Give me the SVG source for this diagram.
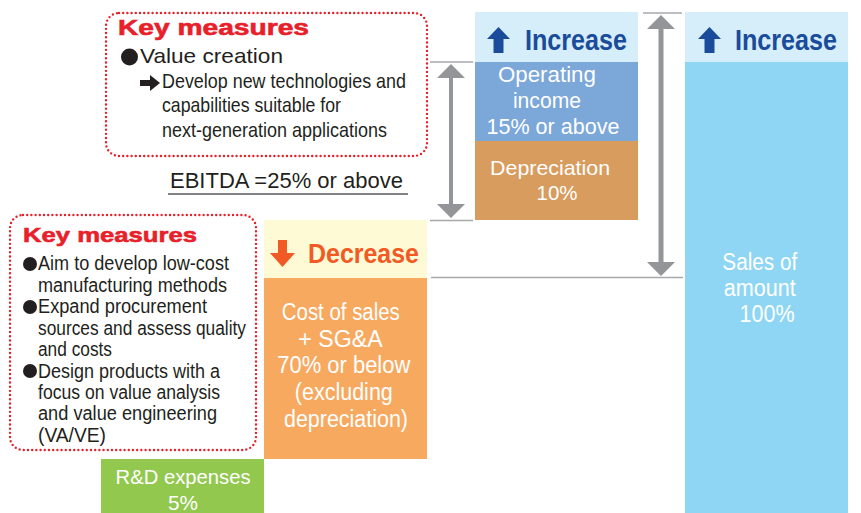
<svg xmlns="http://www.w3.org/2000/svg" width="861" height="513" viewBox="0 0 861 513">
<style>
.t{font-family:"Liberation Sans",Arial,sans-serif;fill:#231f20}
.w{font-family:"Liberation Sans",Arial,sans-serif;fill:#ffffff}
.km{font-family:"Liberation Sans",Arial,sans-serif;font-weight:bold;fill:#e8202a;stroke:#e8202a;stroke-width:0.6}
.hd{font-family:"Liberation Sans",Arial,sans-serif;font-weight:bold}
.dot{fill:none;stroke:#e8202a;stroke-width:2.4;stroke-dasharray:0 4.2;stroke-linecap:round}
.gl{stroke:#a7a9ac;stroke-width:1.6;fill:none}
.ga{fill:#939598}
</style>
<rect width="861" height="513" fill="#ffffff"/>

<g id="connectors">
  <line class="gl" x1="430" y1="62" x2="473" y2="62"/>
  <line class="gl" x1="430" y1="220.5" x2="473" y2="220.5"/>
  <line class="gl" x1="643" y1="13" x2="682" y2="13"/>
  <line class="gl" x1="431" y1="277.5" x2="683" y2="277.5"/>
  <line x1="168" y1="194" x2="408" y2="194" stroke="#808285" stroke-width="2"/>
  <polygon class="ga" points="451,64 465,78 453,78 453,204 465,204 451,218 437,204 449,204 449,78 437,78"/>
  <polygon class="ga" points="661,15 675,29 663.5,29 663.5,262 675,262 661,276 647,262 658.5,262 658.5,29 647,29"/>
</g>

<g id="keymeasures1">
  <rect class="dot" x="106" y="13" width="321" height="143" rx="13"/>
  <text class="km" x="118" y="35" font-size="22" textLength="191" lengthAdjust="spacingAndGlyphs">Key measures</text>
  <circle cx="129.5" cy="57" r="8.5" fill="#231f20"/>
  <text class="t" x="140" y="63" font-size="21" textLength="143" lengthAdjust="spacingAndGlyphs">Value creation</text>
  <polygon fill="#231f20" points="140,80 150,80 150,75 160,83 150,91 150,86 140,86"/>
  <text class="t" x="162" y="88" font-size="21" textLength="244" lengthAdjust="spacingAndGlyphs">Develop new technologies and</text>
  <text class="t" x="162" y="112" font-size="21" textLength="179" lengthAdjust="spacingAndGlyphs">capabilities suitable for</text>
  <text class="t" x="162" y="137" font-size="21" textLength="225" lengthAdjust="spacingAndGlyphs">next-generation applications</text>
</g>

<g id="ebitda">
  <text class="t" x="170" y="188" font-size="22" textLength="233" lengthAdjust="spacingAndGlyphs">EBITDA =25% or above</text>
</g>

<g id="increase1">
  <rect x="475" y="12" width="163" height="50" fill="#d6eefa"/>
  <polygon fill="#1b4b9b" points="498.5,27 510,39 503.5,39 503.5,53 493.5,53 493.5,39 487,39"/>
  <text class="hd" x="525" y="50" font-size="29" fill="#1b4b9b" textLength="102" lengthAdjust="spacingAndGlyphs">Increase</text>
</g>

<g id="operating">
  <rect x="475" y="62" width="163" height="79" fill="#7ba7d9"/>
  <text class="w" text-anchor="middle" font-size="22">
    <tspan x="550" y="82" textLength="98" lengthAdjust="spacingAndGlyphs">Operating</tspan>
    <tspan x="550" y="108" textLength="68" lengthAdjust="spacingAndGlyphs">income</tspan>
    <tspan x="553" y="134" textLength="133" lengthAdjust="spacingAndGlyphs">15% or above</tspan>
  </text>
</g>

<g id="depreciation">
  <rect x="475" y="141" width="163" height="79" fill="#d89c5e"/>
  <text class="w" text-anchor="middle" font-size="21">
    <tspan x="553" y="175" textLength="120" lengthAdjust="spacingAndGlyphs">Depreciation</tspan>
    <tspan x="557" y="200" textLength="41" lengthAdjust="spacingAndGlyphs">10%</tspan>
  </text>
</g>

<g id="increase2">
  <rect x="685" y="12" width="163" height="50" fill="#d6eefa"/>
  <polygon fill="#1b4b9b" points="709.5,27 721,39 714.5,39 714.5,53 704.5,53 704.5,39 698,39"/>
  <text class="hd" x="735" y="50" font-size="29" fill="#1b4b9b" textLength="102" lengthAdjust="spacingAndGlyphs">Increase</text>
</g>

<g id="sales">
  <rect x="685" y="62" width="163" height="451" fill="#8fd6f5"/>
  <text class="w" text-anchor="middle" font-size="23">
    <tspan x="763" y="270" textLength="75" lengthAdjust="spacingAndGlyphs">Sales of</tspan>
    <tspan x="763" y="296" textLength="72" lengthAdjust="spacingAndGlyphs">amount</tspan>
    <tspan x="767" y="322" textLength="55" lengthAdjust="spacingAndGlyphs">100%</tspan>
  </text>
</g>

<g id="decrease">
  <rect x="264" y="220" width="163" height="58" fill="#fffad6"/>
  <polygon fill="#f15a24" points="278,240 287,240 287,253 295,253 282.5,267 270,253 278,253"/>
  <text class="hd" x="308" y="263" font-size="28" fill="#f15a24" textLength="111" lengthAdjust="spacingAndGlyphs">Decrease</text>
</g>

<g id="cost">
  <rect x="264" y="278" width="163" height="181" fill="#f7a95f"/>
  <text class="w" text-anchor="middle" font-size="23">
    <tspan x="344" y="320" textLength="118" lengthAdjust="spacingAndGlyphs">Cost of sales</tspan>
    <tspan x="343" y="347" textLength="83" lengthAdjust="spacingAndGlyphs">+ SG&amp;A</tspan>
    <tspan x="347" y="373" textLength="133" lengthAdjust="spacingAndGlyphs">70% or below</tspan>
    <tspan x="347" y="400" textLength="98" lengthAdjust="spacingAndGlyphs">(excluding</tspan>
    <tspan x="346" y="427" textLength="124" lengthAdjust="spacingAndGlyphs">depreciation)</tspan>
  </text>
</g>

<g id="rnd">
  <rect x="101" y="459" width="163" height="54" fill="#92c84e"/>
  <text class="w" text-anchor="middle" font-size="21">
    <tspan x="186" y="484" textLength="135" lengthAdjust="spacingAndGlyphs">R&amp;D expenses</tspan>
    <tspan x="183" y="510" textLength="30" lengthAdjust="spacingAndGlyphs">5%</tspan>
  </text>
</g>

<g id="keymeasures2">
  <rect class="dot" x="10" y="215" width="246" height="235" rx="13"/>
  <text class="km" x="23" y="242" font-size="21" textLength="174" lengthAdjust="spacingAndGlyphs">Key measures</text>
  <circle cx="30" cy="264" r="7" fill="#231f20"/>
  <circle cx="30" cy="307" r="7" fill="#231f20"/>
  <circle cx="30" cy="371" r="7" fill="#231f20"/>
  <text class="t" font-size="20">
    <tspan x="38" y="270" textLength="191" lengthAdjust="spacingAndGlyphs">Aim to develop low-cost</tspan>
    <tspan x="38" y="292" textLength="189" lengthAdjust="spacingAndGlyphs">manufacturing methods</tspan>
    <tspan x="38" y="313" textLength="169" lengthAdjust="spacingAndGlyphs">Expand procurement</tspan>
    <tspan x="38" y="335" textLength="208" lengthAdjust="spacingAndGlyphs">sources and assess quality</tspan>
    <tspan x="38" y="356" textLength="74" lengthAdjust="spacingAndGlyphs">and costs</tspan>
    <tspan x="38" y="378" textLength="182" lengthAdjust="spacingAndGlyphs">Design products with a</tspan>
    <tspan x="38" y="399" textLength="182" lengthAdjust="spacingAndGlyphs">focus on value analysis</tspan>
    <tspan x="38" y="420" textLength="179" lengthAdjust="spacingAndGlyphs">and value engineering</tspan>
    <tspan x="38" y="442" textLength="68" lengthAdjust="spacingAndGlyphs">(VA/VE)</tspan>
  </text>
</g>
</svg>
